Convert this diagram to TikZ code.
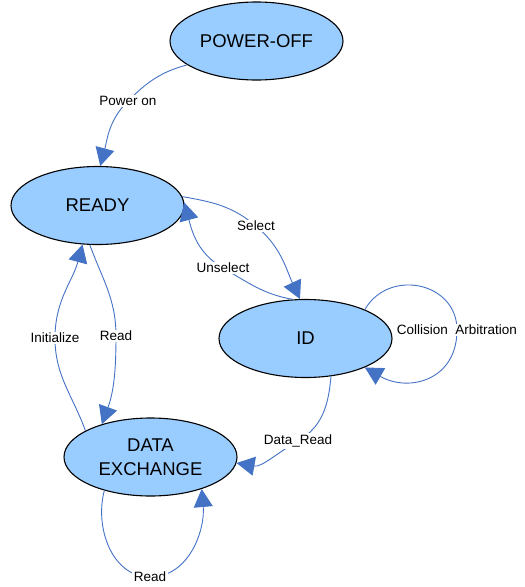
\documentclass[tikz,border=0pt]{standalone}
\usepackage{fontspec}
\setmainfont{Liberation Sans}
\usetikzlibrary{shapes.geometric,arrows.meta}
\definecolor{stfill}{HTML}{99CCFF}
\definecolor{edgeblue}{HTML}{4472C4}
\tikzset{
  state/.style={ellipse,draw=black,line width=1.1pt,fill=stfill,minimum width=173pt,minimum height=78pt,inner sep=0pt,font=\fontsize{18.5}{24}\selectfont,align=center},
  edge/.style={draw=edgeblue,line width=0.9pt,-{Triangle[length=18pt,width=19pt,fill=edgeblue]}},
  lbl/.style={fill=white,inner sep=1.5pt,font=\fontsize{13.5}{16}\selectfont}
}
\begin{document}
\begin{tikzpicture}[x=1pt,y=-1pt]
\useasboundingbox (0,0) rectangle (525,587);
\node[state] (poweroff) at (256.5,41) {POWER-OFF};
\node[state] (ready) at (97.5,205.5) {READY};
\node[state] (id) at (305.5,338.5) {ID};
\node[state] (de) at (150.5,457) {DATA\\EXCHANGE};

\draw[edge] (poweroff.199) to[out=195,in=45] (128,101) node[lbl] (l1) {Power on} to[out=225,in=75] (ready.86);
\draw[edge] (ready.6) to[out=-10,in=140] (256,226) node[lbl] (l2) {Select} to[out=-40,in=115] (id.98);
\draw[edge] (id.108) to[out=170,in=-30] (223,268) node[lbl] (l3) {Unselect} to[out=150,in=-75] (ready.2);
\draw[edge] (id.26) to[out=60,in=90,looseness=1.3] (457,330) node[lbl] (l4) {Collision\ \ Arbitration} to[out=-90,in=-30,looseness=1.3] (id.-26);
\draw[edge] (id.-56) to[out=-95,in=30] (298,441) node[lbl] (l5) {Data\_Read} to[out=-150,in=-10] (de.-4);
\draw[edge] (de.158) to[out=110,in=-90] (55,338) node[lbl] (l6) {Initialize} to[out=90,in=-105] (ready.-111);
\draw[edge] (ready.-101) to[out=-70,in=90] (116,336) node[lbl] (l7) {Read} to[out=-90,in=70] (de.146);
\draw[edge] (de.-144) to[out=-105,in=180] (150,577) node[lbl] (l8) {Read} to[out=0,in=-85] (de.-32);
\end{tikzpicture}
\end{document}
